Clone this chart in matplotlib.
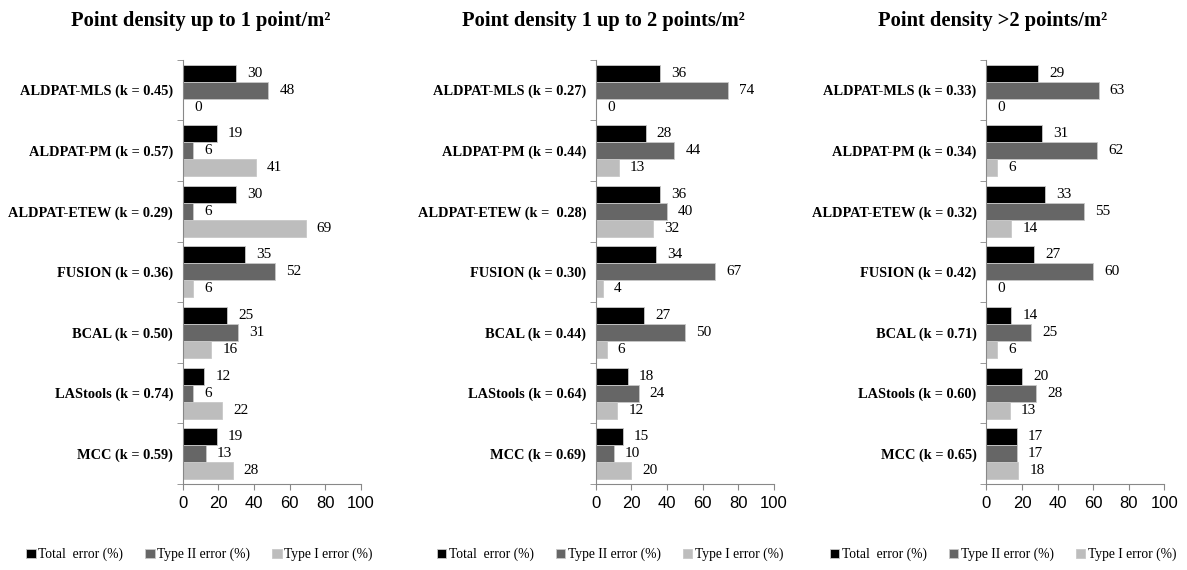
import matplotlib.pyplot as plt
import numpy as np

# panel titles
titles = ['Point density up to 1 point/m²',
          'Point density 1 up to 2 points/m²',
          'Point density >2 points/m²']

series_names = ['Total  error (%)', 'Type II error (%)', 'Type I error (%)']

# row labels for each panel, top to bottom
labels_1 = ['ALDPAT-MLS (k = 0.45)', 'ALDPAT-PM (k = 0.57)', 'ALDPAT-ETEW (k = 0.29)',
            'FUSION (k = 0.36)', 'BCAL (k = 0.50)', 'LAStools (k = 0.74)', 'MCC (k = 0.59)']
labels_2 = ['ALDPAT-MLS (k = 0.27)', 'ALDPAT-PM (k = 0.44)', 'ALDPAT-ETEW (k =  0.28)',
            'FUSION (k = 0.30)', 'BCAL (k = 0.44)', 'LAStools (k = 0.64)', 'MCC (k = 0.69)']
labels_3 = ['ALDPAT-MLS (k = 0.33)', 'ALDPAT-PM (k = 0.34)', 'ALDPAT-ETEW (k = 0.32)',
            'FUSION (k = 0.42)', 'BCAL (k = 0.71)', 'LAStools (k = 0.60)', 'MCC (k = 0.65)']

# total / type II / type I error per row
total_1 = [30, 19, 30, 35, 25, 12, 19]
type2_1 = [48, 6, 6, 52, 31, 6, 13]
type1_1 = [0, 41, 69, 6, 16, 22, 28]

total_2 = [36, 28, 36, 34, 27, 18, 15]
type2_2 = [74, 44, 40, 67, 50, 24, 10]
type1_2 = [0, 13, 32, 4, 6, 12, 20]

total_3 = [29, 31, 33, 27, 14, 20, 17]
type2_3 = [63, 62, 55, 60, 25, 28, 17]
type1_3 = [0, 6, 14, 0, 6, 13, 18]

panels = [
    (labels_1, [total_1, type2_1, type1_1]),
    (labels_2, [total_2, type2_2, type1_2]),
    (labels_3, [total_3, type2_3, type1_3]),
]

colors = ['#000000', '#666666', '#bdbdbd']
serif = 'Liberation Serif'
sans = 'Liberation Sans'

fig = plt.figure(figsize=(11.87, 5.70), dpi=100)

lefts = [0.154, 0.502, 0.831]
title_x = [0.169, 0.508, 0.836]
legend_x = [0.168, 0.514, 0.845]
bar_h = 0.28

for k, (labels, vals) in enumerate(panels):
    ax = fig.add_axes([lefts[k], 0.151, 0.150, 0.744])
    n = len(labels)
    y = np.arange(n)
    handles = []
    for j, v in enumerate(vals):
        pos = y + (j - 1) * bar_h
        b = ax.barh(pos, v, height=bar_h, color=colors[j], edgecolor='#c8c8c8',
                    linewidth=0.6, label=series_names[j])
        handles.append(b)
        for p, val in zip(pos, v):
            ax.annotate(str(val), (val, p), xytext=(8, 0), textcoords='offset points',
                        ha='left', va='center', fontsize=11, family=serif)
    ax.set_ylim(n - 0.5, -0.5)
    ax.set_xlim(0, 100)
    ax.set_xticks(np.arange(0, 101, 20))
    ax.set_yticks(y)
    ax.set_yticklabels(labels, fontsize=10.4, family=serif, fontweight='bold')
    ax.set_yticks(np.arange(-0.5, n, 1), minor=True)
    ax.tick_params(axis='y', which='major', length=0, pad=7)
    ax.tick_params(axis='y', which='minor', length=4, color='#888888', direction='out')
    ax.tick_params(axis='x', length=4, color='#888888', labelsize=12, pad=5)
    for t in ax.get_xticklabels():
        t.set_family(sans)
    ax.spines['top'].set_visible(False)
    ax.spines['right'].set_visible(False)
    ax.spines['left'].set_color('#888888')
    ax.spines['bottom'].set_color('#888888')

    fig.text(title_x[k], 0.963, titles[k], ha='center', va='center',
             fontsize=14.8, fontweight='bold', family=serif)
    fig.legend(handles=handles, loc='center', bbox_to_anchor=(legend_x[k], 0.027),
               ncol=3, frameon=False, prop={'family': serif, 'size': 9.8},
               handlelength=0.7, handleheight=0.7, handletextpad=0.2, columnspacing=1.6)

fig.savefig('out.png', dpi=100)
